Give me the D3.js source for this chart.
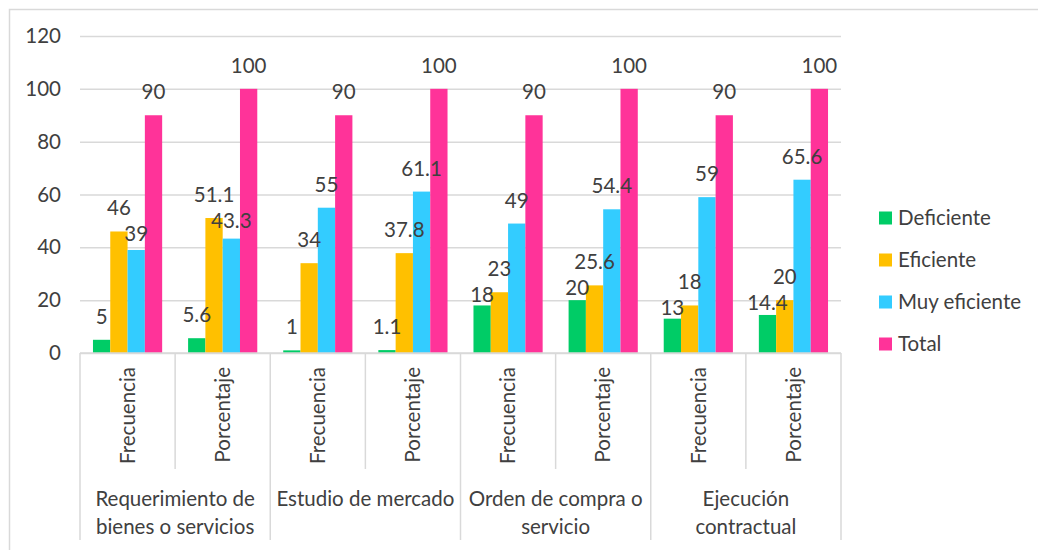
<!DOCTYPE html>
<html>
<head>
<meta charset="utf-8">
<script src="https://cdn.jsdelivr.net/npm/d3@7"></script>
<style>
  body { margin: 0; background: #fff; }
  svg text { font-family: Lato, "Open Sans", sans-serif; fill: #404040; }
</style>
</head>
<body>
<div id="chart"></div>
<script>
// data
const groupLines = [
    ["Requerimiento de", "bienes o servicios"],
    ["Estudio de mercado"],
    ["Orden de compra o", "servicio"],
    ["Ejecución", "contractual"]
];
const measures = ["Frecuencia", "Porcentaje"];
const seriesNames = ["Deficiente", "Eficiente", "Muy eficiente", "Total"];
const deficiente = [5, 5.6, 1, 1.1, 18, 20, 13, 14.4];
const eficiente = [46, 51.1, 34, 37.8, 23, 25.6, 18, 20];
const muyEficiente = [39, 43.3, 55, 61.1, 49, 54.4, 59, 65.6];
const total = [90, 100, 90, 100, 90, 100, 90, 100];
const yTicks = [0, 20, 40, 60, 80, 100, 120];
const colors = ["#00CC66", "#FFC000", "#33CCFF", "#FF3399"];

const width = 1038, height = 550;
const fontSize = 20.5;
const plot = { left: 80, right: 841, top: 36, bottom: 353 };

const svg = d3.select("#chart")
    .append("svg")
    .attr("width", width)
    .attr("height", height);

// outer chart frame (only top / left edges visible in the picture)
svg.append("rect")
    .attr("x", 9.5).attr("y", 9.5)
    .attr("width", width + 20).attr("height", height + 20)
    .attr("fill", "none")
    .attr("stroke", "#d9d9d9")
    .attr("stroke-width", 1.5);

// one slot per group x measure
const slots = [];
groupLines.forEach((g, gi) => measures.forEach((m, mi) => slots.push({ key: gi + "-" + mi, group: gi, measure: m })));
const allValues = [deficiente, eficiente, muyEficiente, total];

const x0 = d3.scaleBand()
    .domain(slots.map(d => d.key))
    .range([plot.left, plot.right])
    .paddingInner(0).paddingOuter(0);
const x1 = d3.scaleBand()
    .domain(seriesNames)
    .range([0, x0.bandwidth()])
    .paddingInner(0).paddingOuter(0.75);
const y = d3.scaleLinear()
    .domain([0, 120])
    .range([plot.bottom, plot.top]);

// y axis: labels + gridlines
const yAxis = svg.append("g")
    .attr("transform", `translate(${plot.left},0)`)
    .call(d3.axisLeft(y).tickValues(yTicks).tickSize(-(plot.right - plot.left)).tickPadding(19));
yAxis.select(".domain").remove();
yAxis.selectAll(".tick line").attr("stroke", "#d9d9d9").attr("stroke-width", 1.5);
yAxis.selectAll(".tick text")
    .style("font-size", fontSize + "px")
    .attr("fill", "#404040");

// bars
const slotG = svg.append("g").selectAll("g")
    .data(slots)
    .enter()
    .append("g")
    .attr("transform", d => `translate(${x0(d.key)},0)`);

const barData = (d, i) => seriesNames.map((s, si) => ({ series: s, si: si, value: allValues[si][i] }));

slotG.selectAll("rect")
    .data(barData)
    .enter()
    .append("rect")
    .attr("x", d => x1(d.series))
    .attr("y", d => y(d.value))
    .attr("width", x1.bandwidth())
    .attr("height", d => y(0) - y(d.value))
    .attr("fill", d => colors[d.si]);

// data labels: above the bar, pushed down when they collide with a neighbour's label
const labelGap = 16, labelBox = 26, minGap = 3;
slotG.each(function (d, i) {
    const labels = d3.select(this).selectAll("text.label")
        .data(barData(d, i))
        .enter()
        .append("text")
        .attr("class", "label")
        .attr("x", e => x1(e.series) + x1.bandwidth() / 2)
        .attr("text-anchor", "middle")
        .style("font-size", fontSize + "px")
        .text(e => e.value);
    const nodes = labels.nodes();
    const base = labels.data().map(e => y(e.value) - labelGap);
    const widths = nodes.map(n => n.getComputedTextLength());
    for (let k = 0; k < nodes.length - 1; k++) {
        const a = labels.data()[k], b = labels.data()[k + 1];
        const dx = Math.abs(x1(b.series) - x1(a.series));
        if (dx >= (widths[k] + widths[k + 1]) / 2) continue;
        // the lower of the two moves down
        const hi = a.value >= b.value ? k : k + 1;
        const lo = hi === k ? k + 1 : k;
        if (base[lo] - labelBox < base[hi]) {
            const lv = labels.data()[lo].value;
            base[lo] = Math.min(base[hi] + labelBox, y(lv) - minGap);
        }
    }
    labels.attr("y", (e, k) => base[k]);
});

// x axis line and category separators
const axisG = svg.append("g");
axisG.append("line")
    .attr("x1", plot.left).attr("x2", plot.right)
    .attr("y1", y(0)).attr("y2", y(0))
    .attr("stroke", "#d9d9d9").attr("stroke-width", 1.5);

const boundaries = d3.range(slots.length + 1);
axisG.selectAll("line.sep")
    .data(boundaries)
    .enter()
    .append("line")
    .attr("class", "sep")
    .attr("x1", d => plot.left + d * x0.step())
    .attr("x2", d => plot.left + d * x0.step())
    .attr("y1", y(0))
    .attr("y2", d => d % 2 === 0 ? 540 : 469)
    .attr("stroke", "#d9d9d9").attr("stroke-width", 1.5);

// rotated measure labels
axisG.selectAll("text.measure")
    .data(slots)
    .enter()
    .append("text")
    .attr("class", "measure")
    .attr("transform", d => `translate(${x0(d.key) + x0.bandwidth() / 2},367) rotate(-90)`)
    .attr("text-anchor", "end")
    .attr("dy", "0.35em")
    .style("font-size", fontSize + "px")
    .text(d => d.measure);

// group labels
const groupText = axisG.selectAll("text.group")
    .data(groupLines)
    .enter()
    .append("text")
    .attr("class", "group")
    .attr("text-anchor", "middle")
    .style("font-size", fontSize + "px");
groupText.selectAll("tspan")
    .data((lines, gi) => lines.map(l => ({ text: l, gi: gi })))
    .enter()
    .append("tspan")
    .attr("x", d => plot.left + (d.gi * 2 + 1) * x0.step())
    .attr("y", (d, i) => 506 + i * 28)
    .text(d => d.text);

// legend
const legend = svg.append("g")
    .selectAll("g")
    .data(seriesNames)
    .enter()
    .append("g")
    .attr("transform", (d, i) => `translate(879,${218 + i * 42})`);
legend.append("rect")
    .attr("x", 0).attr("y", -6.5)
    .attr("width", 13).attr("height", 13)
    .attr("fill", (d, i) => colors[i]);
legend.append("text")
    .attr("x", 19)
    .attr("dy", "0.35em")
    .style("font-size", fontSize + "px")
    .text(d => d);
</script>
</body>
</html>
